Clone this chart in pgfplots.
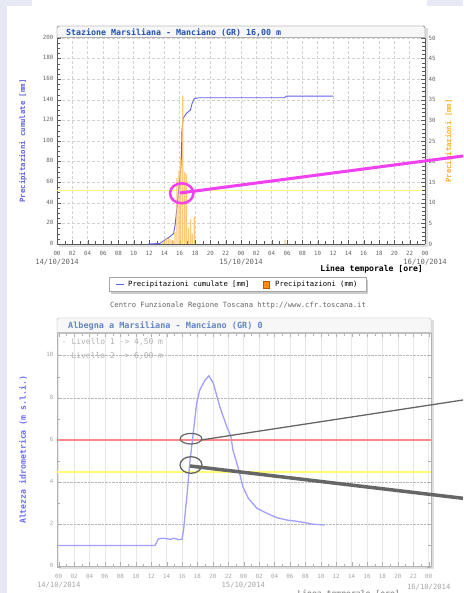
\documentclass[border=0pt]{standalone}
\usepackage{fontspec}
\setmonofont{DejaVu Sans Mono}
\usepackage{pgfplots}
\pgfplotsset{compat=1.18}
\definecolor{cumblue}{HTML}{6060F0}
\definecolor{precor}{HTML}{FFC060}
\definecolor{labor}{HTML}{FFB030}
\definecolor{titblue}{HTML}{2050B0}
\definecolor{bgl}{HTML}{E6E9F4}
\definecolor{magen}{HTML}{F040F0}
\definecolor{lvlblue}{HTML}{A0A0FF}
\definecolor{lblblue}{HTML}{6A6AFF}
\definecolor{redl}{HTML}{FF8888}
\definecolor{yell}{HTML}{FFFF70}
\definecolor{anngray}{HTML}{666666}
\newcommand\tf[1]{\ttfamily\fontsize{#1}{#1}\selectfont}
\begin{document}
\begin{tikzpicture}
\path[use as bounding box] (0,0) rectangle (463pt,593pt);
\fill[bgl] (0,0) rectangle (463pt,593pt);
\begin{scope}[yshift=593pt, x=1pt, y=-1pt]
\fill[white] (6.7,6) rectangle (463,593);
\fill[white] (32,0) rectangle (427,6);
\fill[gray!25] (59,28) rectangle (428,247);
\fill[white] (57,26) rectangle (425,244);
\fill[gray!25] (59,320) rectangle (434,569);
\fill[white] (57,318) rectangle (431,566.7);
\end{scope}

% ---------- top chart, left axis ----------
\begin{axis}[at={(57pt,349pt)}, anchor=south west, scale only axis,
  width=368pt, height=206pt,
  xmin=0, xmax=48, ymin=0, ymax=200,
  xtick={0,2,...,48},
  xticklabels={00,02,04,06,08,10,12,14,16,18,20,22,00,02,04,06,08,10,12,14,16,18,20,22,00},
  minor x tick num=1,
  ytick={0,20,...,200}, minor y tick num=3,
  axis y line*=left, axis x line*=bottom,
  grid=major, major grid style={densely dashed, gray!35},
  axis line style={gray!70!black}, tick style={gray!70!black},
  tick label style={font=\tf{5.8}, text=gray!80!black},
  typeset ticklabels with strut,
  xticklabel style={yshift=-4pt},
  /pgf/number format/assume math mode=true,
  ylabel={\bfseries Precipitazioni cumulate [mm]},
  ylabel style={font=\tf{7.3}, text=cumblue, at={(axis description cs:-0.0924,0.5)}, anchor=center},
  clip=false]
\addplot[yell, line width=1.3pt] coordinates {(0,52)(47.8,52)};
\addplot[cumblue, line width=0.9pt] coordinates {
(11.9,0)(13.4,0.5)(14.1,4)(14.7,7)(15.2,10)(15.4,18)(15.6,32)(15.8,47)(16.0,62)(16.2,78)
(16.3,110)(16.45,122)(16.9,127)(17.4,130)(17.6,136)(17.9,141)(18.5,142)(29.7,142)(29.9,143.5)(36.0,143.5)};
\end{axis}

% ---------- top chart, right axis ----------
\begin{axis}[at={(57pt,349pt)}, anchor=south west, scale only axis,
  width=368pt, height=206pt,
  xmin=0, xmax=48, ymin=0, ymax=50,
  axis y line*=right, axis x line=none,
  ytick={0,5,...,50}, minor y tick num=4,
  axis line style={gray!70!black}, tick style={gray!70!black},
  tick label style={font=\tf{5.8}, text=gray!80!black},
  /pgf/number format/assume math mode=true,
  ylabel={\bfseries Precipitazioni [mm]},
  ylabel style={font=\tf{7.3}, text=labor, at={(axis description cs:1.065,0.5)}, anchor=center}]
\addplot[ybar, bar width=1.2pt, fill=precor, draw=none, fill opacity=0.85] coordinates {
(13.75,0.3)(14.0,0.8)(14.25,1.2)(14.5,1.5)(14.75,1.2)(15.0,1.0)(15.15,0.8)(15.4,3)(15.65,16)
(15.9,18)(16.15,21)(16.4,36)(16.65,17.5)(16.9,17)(17.15,4)(17.4,6)(17.65,2.5)(17.9,6.5)(29.75,1)};
\end{axis}

% ---------- bottom chart ----------
\begin{axis}[at={(57pt,26.3pt)}, anchor=south west, scale only axis,
  width=374pt, height=233.7pt,
  xmin=-0.22, xmax=48.3, ymin=0, ymax=11.07,
  xtick={0,2,...,48},
  xticklabels={00,02,04,06,08,10,12,14,16,18,20,22,00,02,04,06,08,10,12,14,16,18,20,22,00},
  minor x tick num=1,
  ytick={0,2,...,10}, minor y tick num=1,
  xmajorgrids, ymajorgrids,
  x grid style={gray!18},
  y grid style={densely dotted, gray!55},
  axis line style={gray!60}, tick style={gray!60},
  tick label style={font=\tf{5.8}, text=gray!70},
  typeset ticklabels with strut,
  xticklabel style={yshift=-4pt},
  /pgf/number format/assume math mode=true,
  ylabel={\bfseries Altezza idrometrica (m s.l.i.)},
  ylabel style={font=\tf{8.2}, text=lblblue, at={(axis description cs:-0.0909,0.5)}, anchor=center},
  clip=false]
\addplot[redl, line width=2pt] coordinates {(-0.22,6)(48.3,6)};
\addplot[yell, line width=1.8pt] coordinates {(-0.22,4.5)(48.3,4.5)};
\addplot[lvlblue, line width=1.3pt] coordinates {
(0,1.0)(12.5,1.0)(12.9,1.31)(13.5,1.35)(14.5,1.3)(15,1.35)(15.5,1.28)(16.0,1.3)(16.2,1.74)
(16.4,2.5)(16.7,3.6)(17.0,4.9)(17.4,6.16)(17.9,7.74)(18.3,8.37)(19.0,8.85)(19.5,9.04)
(20.05,8.7)(20.9,7.58)(21.8,6.64)(22.35,6.16)(22.6,5.53)(23.3,4.66)(23.9,3.79)(24.6,3.24)
(25.7,2.77)(27.0,2.53)(28.3,2.32)(29.6,2.21)(31.3,2.13)(33.0,2.01)(34.5,1.98)};
\end{axis}

% ---------- overlay ----------
\begin{scope}[yshift=593pt, x=1pt, y=-1pt]
% top title bar
\draw[gray!70!black, fill=gray!6, rounded corners=1.5pt] (57,38) -- (57,26) -- (425,26) -- (425,38);
\draw[gray!60, line width=1pt] (57,38) -- (425,38);
\node[anchor=west, font=\tf{8.3}\bfseries, text=titblue, inner sep=0] at (66,32.3) {Stazione Marsiliana - Manciano (GR) 16,00 m};
% dates top
\node[font=\tf{7.2}, text=gray!80!black, inner sep=0] at (57,262.3) {14/10/2014};
\node[font=\tf{7.2}, text=gray!80!black, inner sep=0] at (241,262.3) {15/10/2014};
\node[font=\tf{7.2}, text=gray!80!black, inner sep=0] at (425,262.3) {16/10/2014};
\node[anchor=east, font=\tf{8.1}\bfseries, inner sep=0] at (423,269) {Linea temporale [ore]};
% legend
\fill[gray!40] (111,279.7) rectangle (368,293.7);
\draw[gray!70, fill=white] (109,277.7) rectangle (366,291.7);
\draw[cumblue, line width=1.2pt] (116,284.7) -- (124,284.7);
\node[anchor=west, font=\tf{7.2}, inner sep=0] at (128,284.7) {Precipitazioni cumulate [mm]};
\draw[orange!70!black, fill=orange!90] (263,281.5) rectangle (269,288);
\node[anchor=west, font=\tf{7.2}, inner sep=0] at (275,284.7) {Precipitazioni (mm)};
\node[font=\tf{7.2}, text=gray!80!black] at (238,305.7) {Centro Funzionale Regione Toscana http://www.cfr.toscana.it};
% bottom title bar
\draw[gray!60, fill=gray!6, rounded corners=1.5pt] (57,333) -- (57,318) -- (431,318) -- (431,333);
\draw[gray!50, line width=1.5pt] (57,333) -- (431,333);
\node[anchor=west, font=\tf{8.5}\bfseries, text=titblue!70, inner sep=0] at (68,326) {Albegna a Marsiliana - Manciano (GR) 0};
\node[anchor=west, font=\tf{8}, text=gray!60, inner sep=0] at (61.7,342.3) {- Livello 1 -> 4,50 m};
\node[anchor=west, font=\tf{8}, text=gray!60, inner sep=0] at (61.7,355.7) {- Livello 2 -> 6,00 m};
\node[font=\tf{7.2}, text=gray!70, inner sep=0] at (58.7,585.5) {14/10/2014};
\node[font=\tf{7.2}, text=gray!70, inner sep=0] at (243.3,585.5) {15/10/2014};
\node[font=\tf{7.2}, text=gray!70, inner sep=0] at (428.7,586.7) {16/10/2014};
\node[anchor=east, font=\tf{8.1}\bfseries, text=gray!80, inner sep=0] at (400,594) {Linea temporale [ore]};
% annotations
\draw[magen, line width=2.5pt] (181.7,193.3) ellipse [x radius=11.7pt, y radius=10pt];
\draw[magen, line width=3pt] (180,193) -- (463,156);
\draw[anngray, line width=1.2pt] (191,438.7) ellipse [x radius=10.8pt, y radius=5.3pt];
\draw[anngray, line width=1.3pt] (201,440) -- (463,400);
\draw[anngray, line width=1.3pt] (191,465) ellipse [x radius=11pt, y radius=8.3pt];
\draw[anngray, line width=3.5pt] (190,466) -- (463,498.3);
\end{scope}
\end{tikzpicture}
\end{document}
